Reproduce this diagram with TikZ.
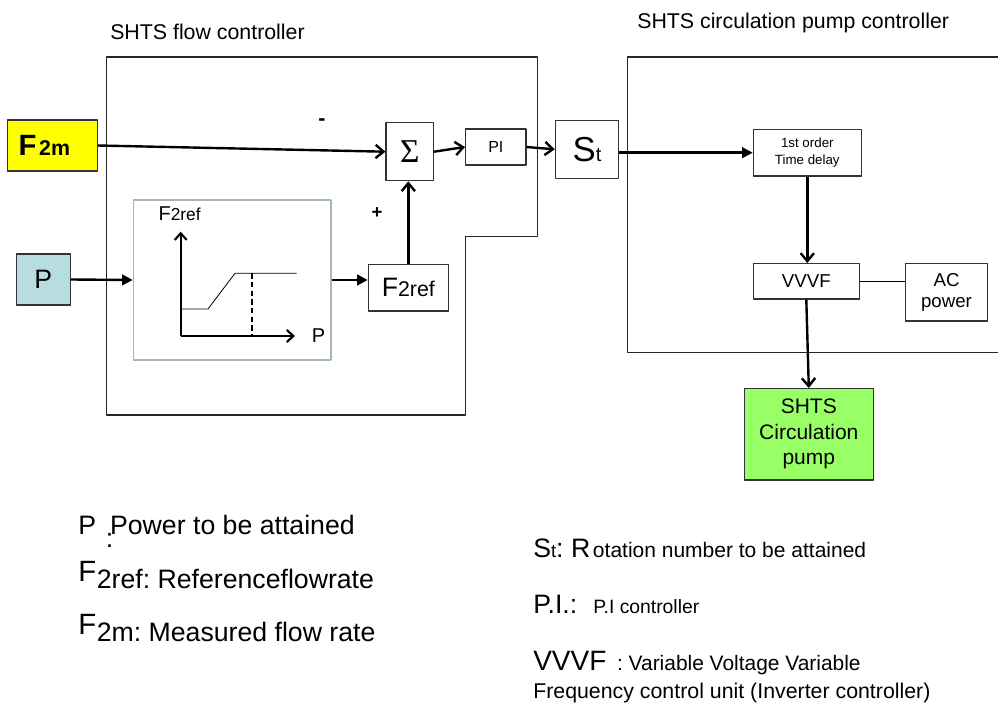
\documentclass[tikz,border=0pt]{standalone}
\usepackage{fontspec}
\setmainfont{Liberation Sans}
\newfontfamily\grkfam{Liberation Serif}
\usetikzlibrary{arrows.meta}
\definecolor{bxY}{HTML}{FFFF00}
\definecolor{bxB}{HTML}{B7DDE0}
\definecolor{bxG}{HTML}{99FF66}
\definecolor{edG}{HTML}{A3B6BF}
\definecolor{edK}{HTML}{333333}
\newcommand{\fsz}[1]{\fontsize{#1}{#1}\selectfont}
\frenchspacing

\begin{document}
\begin{tikzpicture}[x=0.75pt,y=-0.75pt,line join=round,
  blk/.style={draw=edK,line width=0.9pt,inner sep=0pt,align=center},
  txt/.style={anchor=base west,inner sep=0pt},
  wire/.style={line width=1.8pt,-{Straight Barb[length=6pt,width=10pt]}},
  feed/.style={line width=1.8pt,-{Triangle[length=8pt,width=8pt]}},
  frame/.style={line width=1pt,draw=black!85}]

  \useasboundingbox (0,0) rectangle (998,705);

  % the two controller frames
  \draw[frame] (106.7,57) -- (537.3,57) -- (537.3,236.7) -- (465.7,236.7)
    -- (465.7,415) -- (106.7,415) -- cycle;
  \draw[frame] (998,57) -- (627.3,57) -- (627.3,352.7) -- (998,352.7);
  \node[txt] (ttlA) at (110,40) {\fsz{16}SHTS flow controller};
  \node[txt] (ttlB) at (637,29) {\fsz{16}SHTS circulation pump controller};

  % flow controller blocks
  \node[blk,fill=bxY,minimum width=67.5pt,minimum height=38.25pt] (f2m)
    at (52.3,145.5) {\bfseries\fsz{22}F\hspace{2pt}\fsz{16}2m\kern12pt};
  \node[blk,fill=bxB,minimum width=40.5pt,minimum height=38.25pt] (pin)
    at (43.3,279.5) {\fsz{20}P};
  \node[blk,minimum width=35.5pt,minimum height=43.5pt] (sig)
    at (409.7,151.7) {\grkfam\fsz{25}Σ};
  \node[blk,minimum width=45.2pt,minimum height=27pt] (pic)
    at (495.8,147) {\fsz{12}PI};
  \node[blk,minimum width=47.5pt,minimum height=43.5pt] (st)
    at (587,149.3) {\fsz{26}S\fsz{15}t};
  \node[blk,draw=edG,minimum width=148.3pt,minimum height=120pt] (chart)
    at (232.2,280) {};
  \node[blk,minimum width=60pt,minimum height=35pt] (f2r)
    at (408.3,287.7) {\fsz{20}F\fsz{16}2ref};

  % curve inside the chart
  \coordinate (org) at (180.7,336);
  \coordinate (ytip) at (180.7,231.7);
  \coordinate (xtip) at (295,336);
  \draw[line width=1.6pt,-{Straight Barb[length=5pt,width=9pt]}] (org) -- (ytip);
  \draw[line width=1.6pt,-{Straight Barb[length=5pt,width=9pt]}] (org) -- (xtip);
  \draw[line width=0.6pt] (182,309) -- (208,309) -- (235,273.3) -- (296.7,273.3);
  \draw[line width=1.5pt,dash pattern=on 4pt off 2.5pt] (252.3,273.3) -- (252.3,336);
  \node[txt] (ylbl) at (158.3,221) {\fsz{15}F\fsz{13}2ref};
  \node[txt] (xlbl) at (311.5,343) {\fsz{15}P};

  \node[inner sep=0pt] (minus) at (322,122) {\bfseries\fsz{16}-};
  \node[inner sep=0pt] (plus) at (377,213) {\bfseries\fsz{14}+};

  % pump controller blocks
  \node[blk,minimum width=81pt,minimum height=35pt,
        font=\fontsize{10}{12.5}\selectfont] (dly)
    at (807.3,152.7) {1st order\\Time delay};
  \node[blk,minimum width=79.5pt,minimum height=26.5pt] (vvvf)
    at (806.3,281.3) {\fsz{14}VVVF};
  \node[blk,minimum width=61.2pt,minimum height=43pt,
        font=\fontsize{14}{16.3}\selectfont] (acp)
    at (946.5,292.3) {AC\\power};
  \node[blk,fill=bxG,minimum width=96.75pt,minimum height=68.5pt,
        font=\fontsize{15.75}{19.1}\selectfont] (pump)
    at (808.8,434.3) {SHTS\\Circulation\\pump};

  % signal lines
  \draw[wire] (f2m.east) -- (sig.west);
  \draw[feed] (pin.east) -- (chart.west);
  \draw[feed] (chart.east) -- (chart.east -| f2r.west);
  \draw[wire] (f2r.north) -- (f2r.north |- sig.south);
  \draw[wire] (sig.east) -- (pic.west);
  \draw[wire] (pic.east) -- (st.west);
  \draw[feed] (st.east |- dly.west) -- (dly.west);
  \draw[wire] (dly.south) -- (dly.south |- vvvf.north);
  \draw[line width=0.8pt] (vvvf.east) -- (vvvf.east -| acp.west);
  \draw[wire] (vvvf.south) -- (pump.north);

  % legend
  \node[txt] (lgP) at (78,534)
    {\fsz{20}P\hspace{7.3pt}\raisebox{-10pt}{:}\hspace{-2.3pt}Power to be attained};
  \node[txt] (lgR) at (78,588)
    {\raisebox{5pt}{\fsz{22}F}\hspace{0.5pt}\fsz{20}2ref: Referenceflowrate};
  \node[txt] (lgM) at (78,641)
    {\raisebox{5pt}{\fsz{22}F}\hspace{0.5pt}\fsz{20}2m: Measured flow rate};
  \node[txt] (lgS) at (533,557)
    {\fsz{20}S\fsz{14}t\fsz{20}: R\hspace{2pt}\fsz{15.75}otation number to be attained};
  \node[txt] (lgI) at (533,613)
    {\fsz{20}P.I.:\hspace{12pt}\fsz{14.5}P.I controller};
  \node[txt] (lgV) at (533,670)
    {\fsz{21}VVVF\hspace{8pt}\fsz{15.7}: Variable Voltage Variable};
  \node[txt] (lgV2) at (533,698)
    {\fsz{16}Frequency control unit (Inverter controller)};

\end{tikzpicture}
\end{document}
